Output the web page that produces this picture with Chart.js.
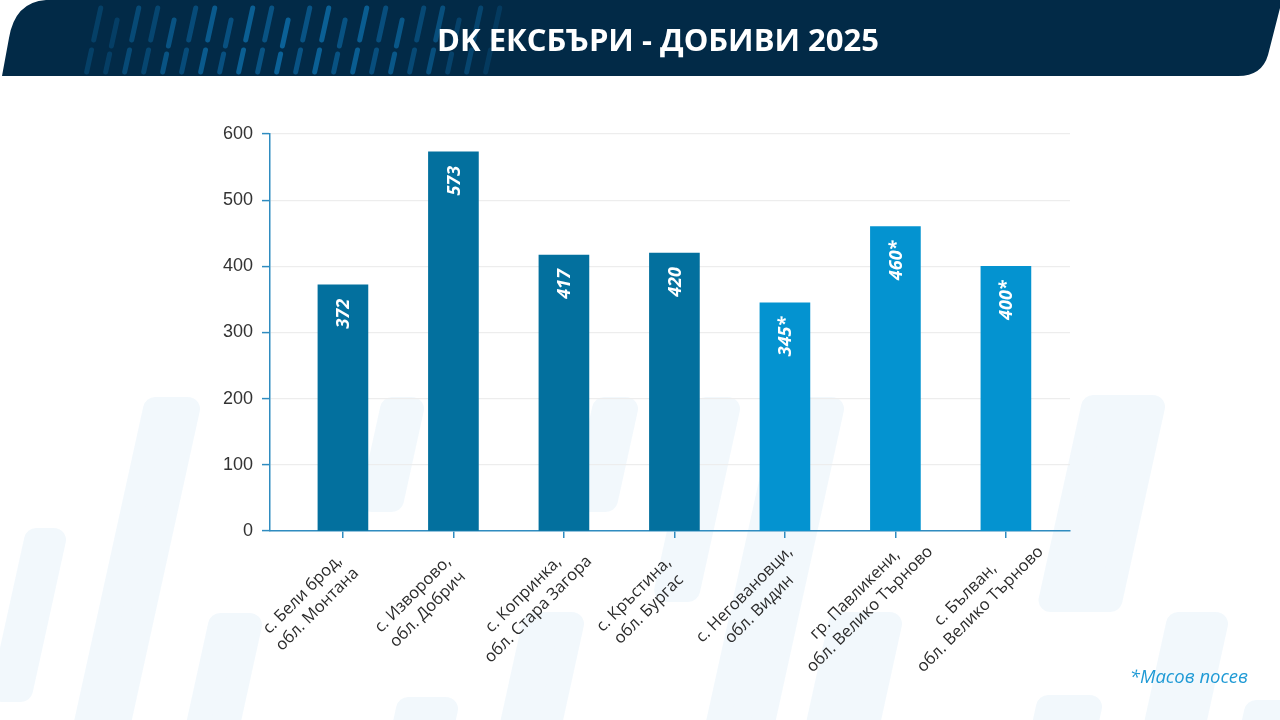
<!DOCTYPE html>
<html>
<head>
<meta charset="utf-8">
<script src="https://cdn.jsdelivr.net/npm/chart.js@4.4.1/dist/chart.umd.min.js"></script>
<style>
  html, body { margin: 0; padding: 0; width: 1280px; height: 720px; overflow: hidden; background: #fff; }
  #bg, #header { position: absolute; left: 0; top: 0; }
  #wrap { position: absolute; left: 0; top: 0; width: 1280px; height: 720px; }
  #title { position: absolute; left: 18px; top: 0; width: 1280px; height: 76px;
           text-align: center; color: #fff; font: 700 31px "Open Sans", sans-serif; line-height: 78px; }
  #note { position: absolute; right: 32px; top: 663px; color: #1f9ad5; font: italic 18.5px "Open Sans", sans-serif; }
</style>
</head>
<body>
<svg id="bg" width="1280" height="720"></svg>
<div id="wrap"><canvas id="chart" width="1280" height="720"></canvas></div>
<svg id="header" width="1280" height="80"></svg>
<div id="title">DK ЕКСБЪРИ - ДОБИВИ 2025</div>
<div id="note">*Масов посев</div>

<script>
const categories = [
    ['с. Бели брод,', 'обл. Монтана'],
    ['с. Изворово,', 'обл. Добрич'],
    ['с. Копринка,', 'обл. Стара Загора'],
    ['с. Кръстина,', 'обл. Бургас'],
    ['с. Неговановци,', 'обл. Видин'],
    ['гр. Павликени,', 'обл. Велико Търново'],
    ['с. Бълван,', 'обл. Велико Търново']
];
const yields = [372, 573, 417, 420, 345, 460, 400];
const massSowing = [false, false, false, false, true, true, true];
const yMax = 600;
const yStep = 100;

const DARK = '#03709e';
const LIGHT = '#0493d0';
const AXIS = '#2f8cc0';
const SVGNS = 'http://www.w3.org/2000/svg';

// faint slanted shapes in the background
function slab(svg, x, yTop, yBot, w, fill, op) {
    const s = 0.22;
    const dx = (yBot - yTop) * s;
    const p = document.createElementNS(SVGNS, 'polygon');
    p.setAttribute('points', `${x},${yTop} ${x + w},${yTop} ${x + w - dx},${yBot} ${x - dx},${yBot}`);
    p.setAttribute('fill', fill);
    p.setAttribute('stroke', fill);
    p.setAttribute('stroke-width', 24);
    p.setAttribute('stroke-linejoin', 'round');
    p.setAttribute('opacity', op);
    svg.appendChild(p);
}
const bg = document.getElementById('bg');
[
    [155, 409, 760, 33], [36, 540, 690, 18], [220, 625, 760, 30], [408, 709, 760, 38],
    [534, 624, 760, 38], [787, 409, 760, 45], [840, 624, 760, 50], [1093, 407, 600, 60],
    [1178, 624, 760, 38], [1048, 707, 760, 42], [1256, 712, 760, 40], [392, 409, 500, 20],
    [604, 409, 500, 22], [706, 409, 590, 22]
].forEach(d => slab(bg, d[0], d[1], d[2], d[3], '#eaf4fb', 0.6));

// header band with dash pattern
const hdr = document.getElementById('header');
const band = document.createElementNS(SVGNS, 'path');
band.setAttribute('d', 'M 2,76 L 9,38 Q 15,2 46,0 L 1280,0 L 1280,8 L 1268,55 Q 1262,76 1238,76 Z');
band.setAttribute('fill', '#022a47');
hdr.appendChild(band);
const patterns = [
    [[8, 40], [50, 72]], [[16, 32], [40, 72]], [[4, 54], [62, 72]],
    [[20, 46], [54, 72]], [[8, 26], [34, 50], [58, 72]], [[12, 62]]
];
for (let k = 0; k < 22; k++) {
    const base = 86 + k * 19;
    const a = 0.25 + 0.55 * Math.sin(Math.PI * (k + 1) / 23);
    patterns[(k * 2 + (k % 3)) % patterns.length].forEach(seg => {
        const ln = document.createElementNS(SVGNS, 'line');
        ln.setAttribute('x1', base + (75 - seg[0]) * 0.22);
        ln.setAttribute('y1', seg[0]);
        ln.setAttribute('x2', base + (75 - seg[1]) * 0.22);
        ln.setAttribute('y2', seg[1]);
        ln.setAttribute('stroke', k % 2 ? '#0b5e94' : '#0e6fab');
        ln.setAttribute('stroke-width', 5);
        ln.setAttribute('stroke-linecap', 'round');
        ln.setAttribute('opacity', a.toFixed(2));
        hdr.appendChild(ln);
    });
}

// value labels inside the bars
const valueLabels = {
    id: 'valueLabels',
    afterDatasetsDraw(chart) {
        const ctx = chart.ctx;
        chart.getDatasetMeta(0).data.forEach((bar, i) => {
            ctx.save();
            ctx.translate(bar.x, bar.y + 14);
            ctx.rotate(-Math.PI / 2);
            ctx.font = 'italic 700 18px "Open Sans"';
            ctx.fillStyle = '#fff';
            ctx.textAlign = 'right';
            ctx.textBaseline = 'middle';
            ctx.fillText(yields[i] + (massSowing[i] ? '*' : ''), 0, 1);
            ctx.restore();
        });
    }
};

// rotated two-line category labels, lines centred on each other
const categoryLabels = {
    id: 'categoryLabels',
    afterDraw(chart) {
        const ctx = chart.ctx;
        const xs = chart.scales.x;
        const base = chart.chartArea.bottom;
        ctx.save();
        ctx.font = '16.5px "Open Sans"';
        ctx.fillStyle = '#2b2b2b';
        ctx.textAlign = 'center';
        ctx.textBaseline = 'middle';
        categories.forEach((lines, i) => {
            const px = xs.getPixelForValue(i);
            ctx.save();
            ctx.translate(px - 33, base + 71);
            ctx.rotate(-Math.PI / 4);
            lines.forEach((t, j) => ctx.fillText(t, 0, (j - (lines.length - 1) / 2) * 21));
            ctx.restore();
        });
        ctx.restore();
    }
};

new Chart(document.getElementById('chart'), {
    type: 'bar',
    data: {
        datasets: [{
            data: yields.map((v, i) => ({ x: i, y: v })),
            backgroundColor: massSowing.map(m => m ? LIGHT : DARK),
            barThickness: 50
        }]
    },
    options: {
        responsive: false,
        animation: false,
        layout: { padding: { left: 200, right: 210, top: 134, bottom: 0 } },
        plugins: { legend: { display: false }, tooltip: { enabled: false } },
        scales: {
            x: {
                type: 'linear',
                min: -0.66,
                max: 6.58,
                offset: false,
                afterBuildTicks: axis => { axis.ticks = categories.map((c, i) => ({ value: i })); },
                afterFit: axis => { axis.height = 189; },
                ticks: { display: false },
                grid: { offset: false, drawOnChartArea: false, drawTicks: true, tickLength: 7, color: AXIS, lineWidth: 1.5 },
                border: { color: AXIS, width: 1.5 }
            },
            y: {
                min: 0,
                max: yMax,
                afterFit: axis => { axis.width = 70; },
                ticks: { stepSize: yStep, padding: 9, color: '#333', font: { family: '"Liberation Sans"', size: 18 } },
                grid: { color: '#ededed', lineWidth: 1.2, tickLength: 8, tickColor: AXIS, tickWidth: 1.5 },
                border: { color: AXIS, width: 1.5 }
            }
        }
    },
    plugins: [valueLabels, categoryLabels]
});
</script>
</body>
</html>
